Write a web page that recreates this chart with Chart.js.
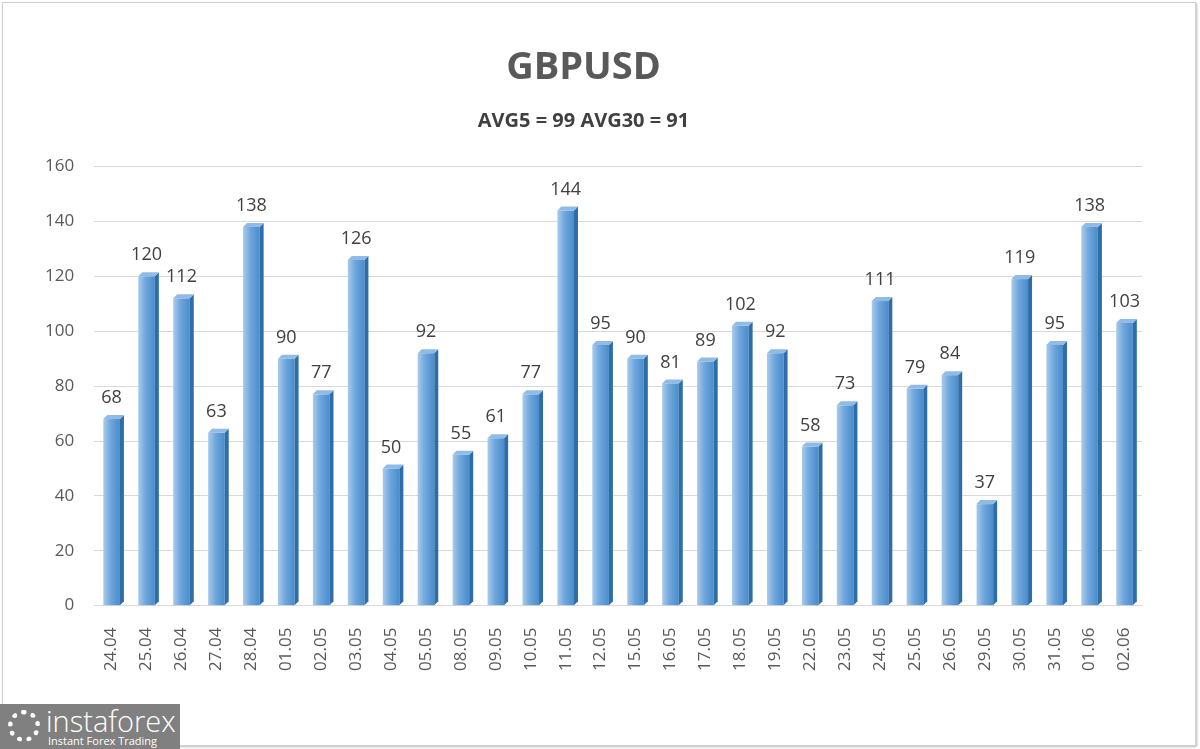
<!DOCTYPE html>
<html>
<head>
<meta charset="utf-8">
<script src="https://cdn.jsdelivr.net/npm/chart.js@4.4.1/dist/chart.umd.min.js"></script>
<style>
    html, body { margin: 0; padding: 0; background: #fff; }
    #wrap { position: relative; width: 1200px; height: 749px; }
    #frame { position: absolute; left: 2px; top: 2px; width: 1192px; height: 742px; border: 1px solid #d0d0d0; box-shadow: 1px 1px 2px #bbb; }
    #logo { position: absolute; left: 0; top: 704px; width: 180px; height: 45px; background: #808080; color: #fff; font-family: "Open Sans", sans-serif; overflow: hidden; }
    #logo .big { position: absolute; left: 46px; top: -3px; font-size: 29px; font-weight: 300; }
    #logo .small { position: absolute; left: 48px; top: 29px; font-size: 11px; }
    #logo .gear { position: absolute; left: 8px; top: 6px; width: 32px; height: 32px; border: 5px dotted #fff; border-radius: 50%; box-sizing: border-box; }
</style>
</head>
<body>
<div id="wrap">
    <div id="frame"></div>
    <canvas id="bar_chart" width="1200" height="749"></canvas>
    <div id="logo"><div class="gear"></div><span class="big">instaforex</span><span class="small">Instant Forex Trading</span></div>
</div>
<script>
var dates = ["24.04", "25.04", "26.04", "27.04", "28.04", "01.05", "02.05", "03.05", "04.05", "05.05",
    "08.05", "09.05", "10.05", "11.05", "12.05", "15.05", "16.05", "17.05", "18.05", "19.05",
    "22.05", "23.05", "24.05", "25.05", "26.05", "29.05", "30.05", "31.05", "01.06", "02.06"];
var ranges = [68, 120, 112, 63, 138, 90, 77, 126, 50, 92,
    55, 61, 77, 144, 95, 90, 81, 89, 102, 92,
    58, 73, 111, 79, 84, 37, 119, 95, 138, 103];
var yTicks = [0, 20, 40, 60, 80, 100, 120, 140, 160];

// fake 3d look + value labels on top of bars
var barLook = {
    id: 'barLook',
    afterDatasetsDraw: function (chart) {
        var ctx = chart.ctx;
        var meta = chart.getDatasetMeta(0);
        var d = 4;
        ctx.save();
        meta.data.forEach(function (bar, i) {
            var w = bar.width, left = bar.x - w / 2, right = bar.x + w / 2;
            var g = ctx.createLinearGradient(left, 0, right, 0);
            g.addColorStop(0, '#a9cbea');
            g.addColorStop(0.45, '#6ea6dc');
            g.addColorStop(1, '#4a8ccb');
            ctx.fillStyle = g;
            ctx.fillRect(left, bar.y, w, bar.base - bar.y);
            // side
            ctx.fillStyle = '#2f6da8';
            ctx.beginPath();
            ctx.moveTo(right, bar.y);
            ctx.lineTo(right + d, bar.y - d);
            ctx.lineTo(right + d, bar.base - d);
            ctx.lineTo(right, bar.base);
            ctx.closePath();
            ctx.fill();
            // top
            ctx.fillStyle = '#8fbbe6';
            ctx.beginPath();
            ctx.moveTo(left, bar.y);
            ctx.lineTo(left + d, bar.y - d);
            ctx.lineTo(right + d, bar.y - d);
            ctx.lineTo(right, bar.y);
            ctx.closePath();
            ctx.fill();
            // label
            ctx.fillStyle = '#404040';
            ctx.font = '18px "Open Sans", sans-serif';
            ctx.textAlign = 'center';
            ctx.textBaseline = 'bottom';
            ctx.fillText(ranges[i], bar.x, bar.y - 12);
        });
        ctx.restore();
    }
};

new Chart(document.getElementById("bar_chart").getContext("2d"), {
    type: 'bar',
    data: {
        labels: dates,
        datasets: [{
            label: "GBPUSD",
            data: ranges,
            backgroundColor: 'rgba(0,0,0,0)',
            barPercentage: 0.95,
            categoryPercentage: 0.5
        }]
    },
    options: {
        responsive: false,
        animation: false,
        layout: { padding: { left: 25, right: 58, top: 45, bottom: 64 } },
        plugins: {
            legend: { display: false },
            tooltip: { enabled: false },
            title: {
                display: true,
                text: 'GBPUSD',
                color: '#595959',
                font: { family: '"Open Sans", sans-serif', size: 38, weight: 'bold' },
                padding: { top: 0, bottom: 19 }
            },
            subtitle: {
                display: true,
                text: 'AVG5 = 99 AVG30 = 91',
                color: '#404040',
                font: { family: '"Open Sans", sans-serif', size: 20, weight: 'bold' },
                padding: { top: 0, bottom: 33 }
            }
        },
        scales: {
            x: {
                grid: { display: false },
                border: { color: '#d9d9d9' },
                ticks: {
                    color: '#595959',
                    font: { family: '"Open Sans", sans-serif', size: 17 },
                    maxRotation: 90,
                    minRotation: 90,
                    autoSkip: false,
                    padding: 14
                }
            },
            y: {
                min: 0,
                max: 160,
                afterBuildTicks: function (axis) {
                    axis.ticks = yTicks.map(function (v) { return { value: v }; });
                },
                grid: { color: '#d9d9d9', drawTicks: false },
                border: { display: false },
                ticks: {
                    color: '#595959',
                    font: { family: '"Open Sans", sans-serif', size: 17 },
                    padding: 20
                }
            }
        }
    },
    plugins: [barLook]
});
</script>
</body>
</html>
